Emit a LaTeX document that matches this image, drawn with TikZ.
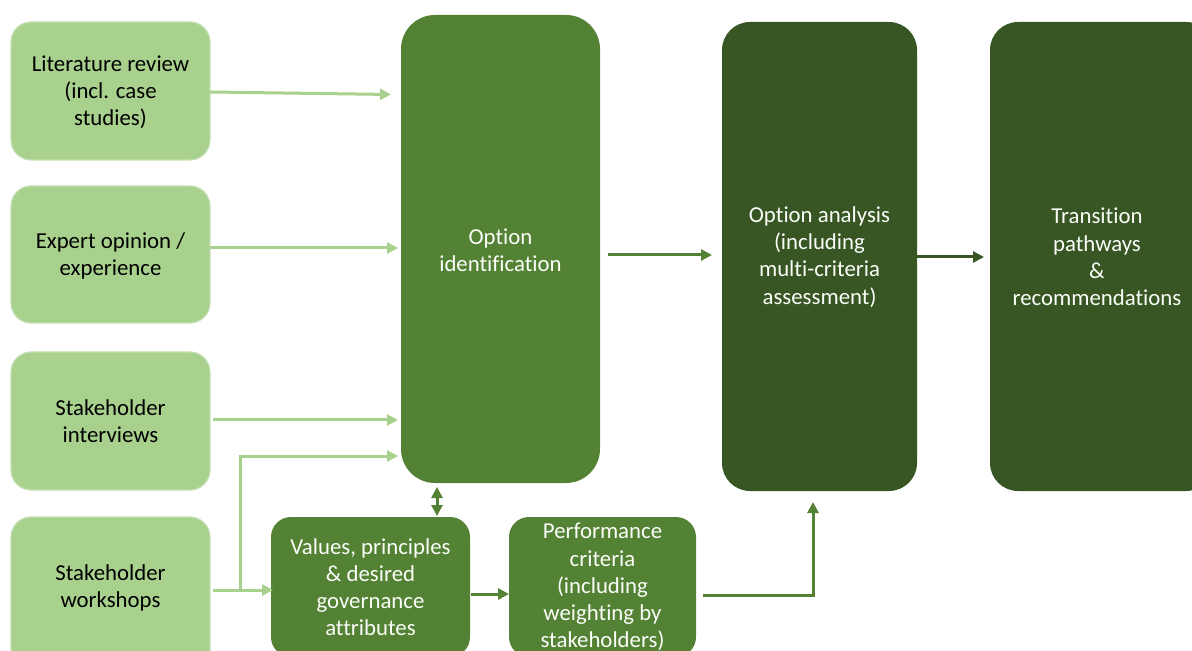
\documentclass[tikz,border=0pt]{standalone}
\usepackage{fontspec}
\setmainfont[RawFeature={-liga;-clig}]{Carlito}
\usetikzlibrary{arrows.meta}
\definecolor{lightg}{HTML}{A9D18E}
\definecolor{lightb}{HTML}{C5E0B4}
\definecolor{midg}{HTML}{548235}
\definecolor{darkg}{HTML}{375623}
\begin{document}
\begin{tikzpicture}[x=0.5pt,y=-0.5pt,
  lbox/.style={fill=lightg,draw=lightb,line width=0.6pt,rounded corners=10pt},
  mbox/.style={fill=midg,rounded corners=10pt},
  dbox/.style={fill=darkg,rounded corners=14pt},
  txt/.style={align=center,font=\fontsize{11.4}{13.6}\selectfont},
  ltxt/.style={txt,text=black},
  wtxt/.style={txt,text=white!95!lightg},
  larr/.style={draw=lightg,line width=1.5pt,-{Triangle[length=5.5pt,width=5.5pt]}},
  marr/.style={draw=midg,line width=1.5pt,-{Triangle[length=5.5pt,width=5.5pt]}},
  darr/.style={draw=darkg,line width=1.5pt,-{Triangle[length=5.5pt,width=5.5pt]}}]
\useasboundingbox (0,0) rectangle (1192,651);
\clip (0,0) rectangle (1192,651);
% boxes
\draw[lbox] (11,22) rectangle (210,160);
\draw[lbox] (11,186) rectangle (210,323);
\draw[lbox] (11,352) rectangle (210,490);
\draw[lbox] (11,517) rectangle (210,672);
\fill[midg,rounded corners=17pt] (401,15) rectangle (600,483);
\fill[dbox] (722,22) rectangle (917,491);
\fill[dbox] (990,22) rectangle (1214,491);
\fill[mbox] (271,517) rectangle (470,657);
\fill[mbox] (509,517) rectangle (696,657);
% texts
\node[ltxt] (lit) at (110.5,92) {Literature review\\(incl. case\\studies)};
\node[ltxt] (exp) at (110.5,256) {Expert opinion /\\experience};
\node[ltxt] (int) at (110.5,421) {Stakeholder\\interviews};
\node[ltxt] (ws) at (110.5,588) {Stakeholder\\workshops};
\node[wtxt] (oid) at (500.5,250) {Option\\identification};
\node[wtxt] (oan) at (819.5,257) {Option analysis\\(including\\multi-criteria\\assessment)};
\node[wtxt] (tra) at (1097,257) {Transition\\pathways\\\&\\recommendations};
\node[wtxt] (val) at (370.5,587) {Values, principles\\\& desired\\governance\\attributes};
\node[wtxt] (perf) at (602.5,587) {Performance\\criteria\\(including\\weighting by\\stakeholders)};
% anchor coordinates
\coordinate (a1s) at (210,92); \coordinate (a1e) at (391,94.5);
\coordinate (a2s) at (210,248); \coordinate (a2e) at (398,248);
\coordinate (a3s) at (213,420); \coordinate (a3e) at (398,420);
\coordinate (a4s) at (213,590); \coordinate (a4e) at (273,590);
\coordinate (br) at (240,590); \coordinate (bre) at (398,456);
\coordinate (dv1) at (437,487); \coordinate (dv2) at (437,516);
\coordinate (vp1) at (471,594); \coordinate (vp2) at (509,594);
\coordinate (pa1) at (703,595); \coordinate (pa2) at (813,502);
\coordinate (oa1) at (608,255); \coordinate (oa2) at (712,255);
\coordinate (at1) at (917,257); \coordinate (at2) at (984,257);
% connectors
\draw[larr] (a1s) -- (a1e);
\draw[larr] (a2s) -- (a2e);
\draw[larr] (a3s) -- (a3e);
\draw[larr] (a4s) -- (a4e);
\draw[larr] (br) |- (bre);
\draw[marr,{Triangle[length=5.5pt,width=5.5pt]}-{Triangle[length=5.5pt,width=5.5pt]}] (dv1) -- (dv2);
\draw[marr] (vp1) -- (vp2);
\draw[marr] (pa1) -| (pa2);
\draw[marr] (oa1) -- (oa2);
\draw[darr] (at1) -- (at2);
\end{tikzpicture}
\end{document}
